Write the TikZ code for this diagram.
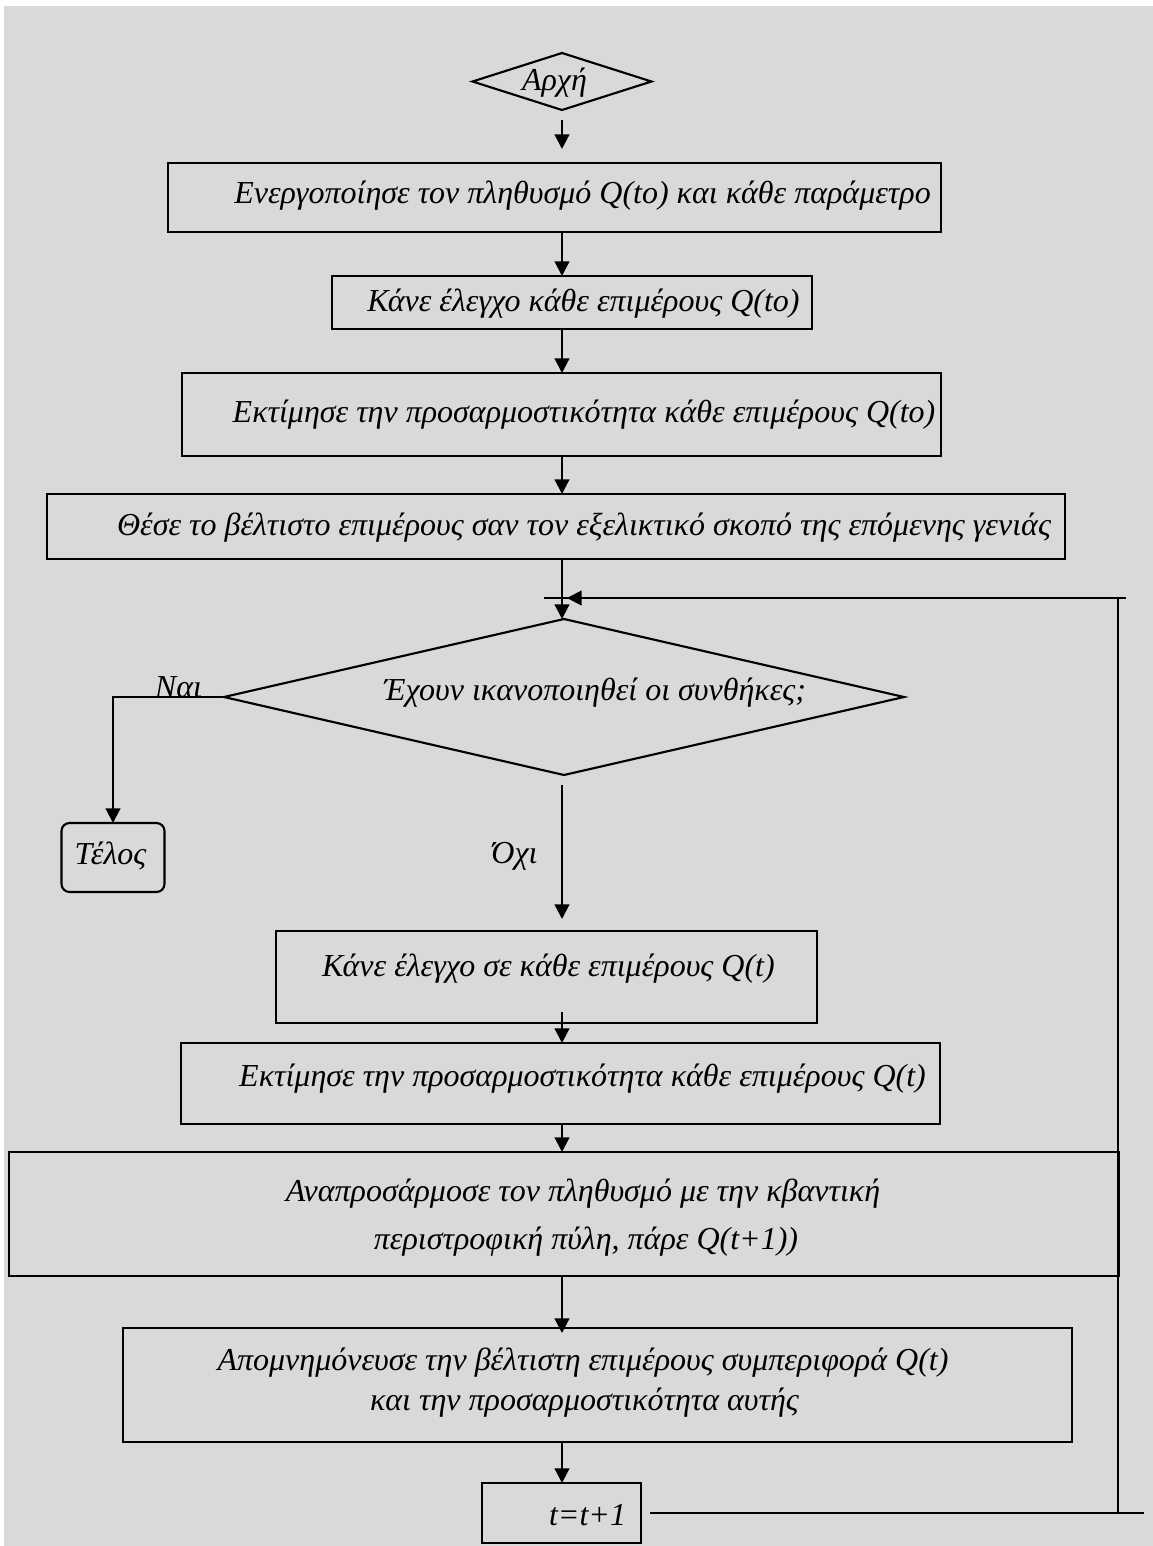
\documentclass[tikz,border=0pt]{standalone}
\usepackage{fontspec}
\setmainfont{Liberation Serif}
\usetikzlibrary{shapes.geometric,arrows.meta,calc}
\definecolor{panel}{HTML}{D9D9D9}
\begin{document}
\begin{tikzpicture}[x=0.75pt,y=-0.75pt,
  every node/.style={font=\fontsize{24}{30}\selectfont\itshape},
  box/.style 2 args={draw, line width=1.6pt, rectangle, minimum width=#1*0.75pt,
    minimum height=#2*0.75pt, inner sep=0pt, outer sep=0pt},
  rhomb/.style 2 args={draw, line width=1.6pt, diamond, minimum width=#1*0.75pt,
    minimum height=#2*0.75pt, inner sep=0pt, outer sep=0pt},
  txt/.style={anchor=base, inner sep=0pt},
  wire/.style={line width=1.6pt},
  arr/.style={line width=1.6pt, -{Triangle[length=11pt,width=11pt]}}]

\useasboundingbox (0,0) rectangle (1153,1546);
\fill[panel] (4,6) rectangle (1153,1546);

% shapes
\node[rhomb={179}{57}] (s) at (562,81.5) {};
\node[box={773}{69}] (b1) at (554.5,197.5) {};
\node[box={480}{53}] (b2) at (572,302.5) {};
\node[box={759}{83}] (b3) at (561.5,414.5) {};
\node[box={1018}{65}] (b4) at (556,526.5) {};
\node[rhomb={680}{156}] (d) at (564,697) {};
\node[box={103}{69}, rounded corners=6pt] (e) at (113,857.5) {};
\node[box={541}{92}] (b5) at (546.5,977) {};
\node[box={759}{81}] (b6) at (560.5,1083.5) {};
\node[box={1110}{124}] (b7) at (564,1214) {};
\node[box={949}{114}] (b8) at (597.5,1385) {};
\node[box={159}{60}] (b9) at (561.5,1513) {};

% texts
\node[txt] (t0) at (554.5,90) {Αρχή};
\node[txt] (t1) at (582.5,203) {Ενεργοποίησε τον πληθυσμό Q(to) και κάθε παράμετρο};
\node[txt] (t2) at (583.5,311) {Κάνε έλεγχο κάθε επιμέρους Q(to)};
\node[txt] (t3) at (584,422) {Εκτίμησε την προσαρμοστικότητα κάθε επιμέρους Q(to)};
\node[txt] (t4) at (584,535) {Θέσε το βέλτιστο επιμέρους σαν τον εξελικτικό σκοπό της επόμενης γενιάς};
\node[txt] (td) at (595,700) {Έχουν ικανοποιηθεί οι συνθήκες;};
\node[txt] (te) at (110.5,864) {Τέλος};
\node[txt] (yes) at (178.5,697) {Ναι};
\node[txt] (no) at (514.5,863) {Όχι};
\node[txt] (t5) at (548.5,976) {Κάνε έλεγχο σε κάθε επιμέρους Q(t)};
\node[txt] (t6) at (582.5,1086) {Εκτίμησε την προσαρμοστικότητα κάθε επιμέρους Q(t)};
\node[txt] (t7a) at (583,1201) {Αναπροσάρμοσε τον πληθυσμό με την κβαντική};
\node[txt] (t7b) at (586,1249) {περιστροφική πύλη, πάρε Q(t+1))};
\node[txt] (t8a) at (583,1370) {Απομνημόνευσε την βέλτιστη επιμέρους συμπεριφορά Q(t)};
\node[txt] (t8b) at (584.5,1410) {και την προσαρμοστικότητα αυτής};
\node[txt] (t9) at (587.5,1525) {t=t+1};

% loop-back points
\coordinate (fbBotR) at (1144,1513);
\coordinate (fbBotJ) at (1118,1513);
\coordinate (fbJoin) at (1118,598);
\coordinate (fbTopR) at (1126,598);
\coordinate (fbTopL) at (544,598);
\coordinate (merge) at (567,598);

% main column
\draw[arr, shorten <=7.5pt, shorten >=10.5pt] (s.south) -- (b1.north -| s);
\draw[arr] (b1.south -| s) -- (b2.north -| s);
\draw[arr] (b2.south -| s) -- (b3.north -| s);
\draw[arr] (b3.south -| s) -- (b4.north -| s);
\draw[arr] (b4.south -| s) -- (d.north -| s);
\draw[arr] (d.west) -| (e.north);
\draw[arr, shorten <=7.5pt, shorten >=9pt] (d.south -| s) -- (b5.north -| s);
\draw[arr] ([yshift=8.25pt]b5.south -| s) -- (b6.north -| s);
\draw[arr] (b6.south -| s) -- (b7.north -| s);
\draw[arr] (b7.south -| s) -- ([yshift=-3.75pt]b8.north -| s);
\draw[arr] (b8.south -| s) -- (b9.north -| s);

% feedback loop
\draw[wire] ([xshift=6.75pt]b9.east) -- (fbBotR);
\draw[wire] (fbBotJ) -- (fbJoin);
\draw[wire] (fbTopR) -- (fbTopL);
\draw[arr] (fbJoin) -- (merge);
\end{tikzpicture}
\end{document}
